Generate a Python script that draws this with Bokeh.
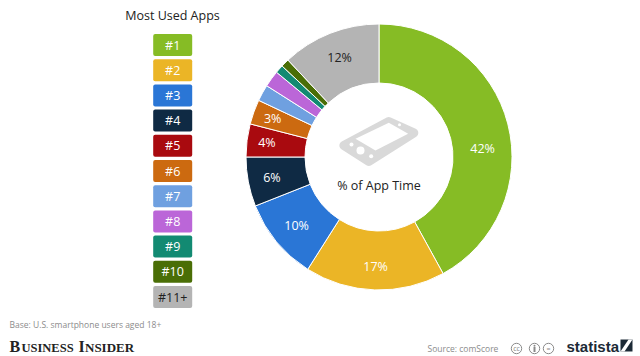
import math
from bokeh.plotting import figure
from bokeh.models import ColumnDataSource, Range1d
from bokeh.core.properties import value
from bokeh.embed import file_html
from bokeh.resources import INLINE

categories = ["#1","#2","#3","#4","#5","#6","#7","#8","#9","#10","#11+"]
shares = [42,17,10,6,4,3,2,2,1,1,12]
colors = ["#86bc25","#ebb526","#2a76d6","#0f2a44","#a90a0f","#cc6a10","#6fa0e0","#bb66d8","#128a72","#4a6e06","#b4b4b4"]
shown = ["42%","17%","10%","6%","4%","3%","","","","","12%"]
label_colors = ["white"]*10+["#222222"]
title = "Most Used Apps"
center_label = "% of App Time"
base_note = "Base: U.S. smartphone users aged 18+"
source_note = "Source: comScore"

# layout of the value labels: distance from centre, and turn away from the slice middle (degrees)
label_radius = [104,110,107,109,113,113,0,0,0,0,107]
label_turn = [9.5,0,0,0,0,0,0,0,0,0,0]

W,H = 640,356
p = figure(width=W,height=H,x_range=Range1d(0,W),y_range=Range1d(0,H),
           output_backend="svg",toolbar_location=None,min_border=0)
p.axis.visible=False; p.grid.visible=False; p.outline_line_color=None
Y=lambda py:H-py
OS=value("Open Sans")
INK="#222222"

# donut
cx,cy,ro,ri=378.5,Y(156.5),133,74
total=sum(shares)
ang=[0.0]
for s in shares: ang.append(ang[-1]+s/total*2*math.pi)
start=[math.pi/2-a for a in ang[1:]]
end=[math.pi/2-a for a in ang[:-1]]
p.annular_wedge(x=cx,y=cy,inner_radius=ri,outer_radius=ro,start_angle=start,end_angle=end,
                fill_color=colors,line_color="white",line_width=1)
mid=[(a+b)/2+math.radians(t) for a,b,t in zip(ang[:-1],ang[1:],label_turn)]
p.text(x=[cx+r*math.sin(m) for m,r in zip(mid,label_radius)],
       y=[cy+r*math.cos(m) for m,r in zip(mid,label_radius)],text=shown,
       text_color=label_colors,text_font=OS,text_font_size="12.5px",text_align="center",text_baseline="middle")

# legend
ly=[Y(44.5+25.2*i) for i in range(len(categories))]
src=ColumnDataSource(dict(l=[152.7]*11,r=[191.7]*11,t=[v+11 for v in ly],b=[v-11 for v in ly],
                          x=[172.2]*11,y=ly,c=colors,lab=categories,tc=label_colors))
p.quad(left="l",right="r",top="t",bottom="b",fill_color="c",line_color=None,border_radius=2,source=src)
p.text(x="x",y="y",text="lab",text_color="tc",text_font=OS,text_font_size="12.5px",text_align="center",text_baseline="middle",source=src)
p.text(x=[172],y=[Y(15)],text=[title],text_font=OS,text_font_size="12.5px",text_color=INK,text_align="center",text_baseline="middle")

# centre
p.text(x=[cx],y=[Y(184.5)],text=[center_label],text_font=OS,text_font_size="12.5px",text_color=INK,text_align="center",text_baseline="middle")
GR="#d9d9d9"
def ic(zx,zy): return 325+zx/3, Y(95+zy/3)
def poly(pts):
    c=[ic(*q) for q in pts]
    return [q[0] for q in c],[q[1] for q in c]
xs,ys=poly([(55,150),(190,78),(265,112),(130,198)])
p.patch(xs,ys,fill_color=GR,line_color=GR,line_width=9,line_join="round")
xs,ys=poly([(90,130),(190,82),(248,115),(150,165)])
p.patch(xs,ys,fill_color="white",line_color=None)
bx,by=poly([(78,147),(105,165),(137,182),(222,88)])
p.scatter(x=bx,y=by,size=[4,8,4,3],fill_color="white",line_color=None)

# footer
p.text(x=[9],y=[Y(324)],text=[base_note],text_font=OS,text_font_size="8.5px",text_color="#8c8c8c",text_baseline="middle")
p.text(x=[427],y=[Y(348)],text=[source_note],text_font=OS,text_font_size="8.5px",text_color="#8c8c8c",text_baseline="middle")
p.text(x=[9,21,78,84.5],y=[Y(346),Y(347.2),Y(346),Y(347.2)],text=["B","USINESS","I","NSIDER"],text_font=value("Liberation Serif"),
       text_font_style="bold",text_font_size=["16px","12.5px","16px","13px"],text_color=INK,text_baseline="middle")

# licence marks
CCG="#8a8a8a"
p.circle(x=[516,534,548],y=[Y(348)]*3,radius=5.2,fill_color=None,line_color=CCG,line_width=1)
p.text(x=[516,548],y=[Y(348)]*2,text=["cc","="],text_font=OS,text_font_size="7px",text_color=CCG,text_align="center",text_baseline="middle")
p.circle(x=[534],y=[Y(345.3)],radius=1,fill_color=CCG,line_color=None)
p.segment(x0=[534],y0=[Y(346.5)],x1=[534],y1=[Y(351.5)],line_color=CCG,line_width=2)

# statista wordmark
p.text(x=[566],y=[Y(345.5)],text=["statista"],text_font=value("Liberation Sans"),text_font_style="bold",text_font_size="15px",text_color="#1c2a36",text_baseline="middle")
p.quad(left=[620],right=[632],top=[Y(339)],bottom=[Y(351)],fill_color="#1c2a36",line_color=None)
p.patch([620,628,632,624],[Y(351),Y(339),Y(339),Y(351)],fill_color="white",line_color=None)
open("out.html","w").write(file_html(p,INLINE))
